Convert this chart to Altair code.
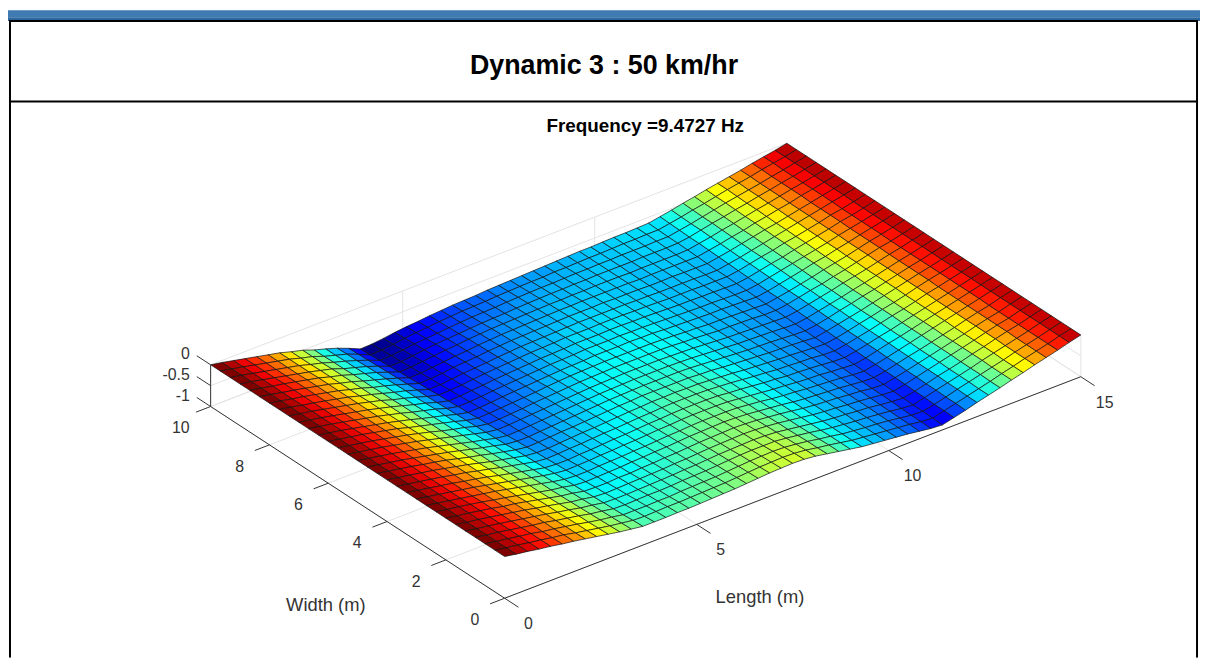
import altair as alt
import pandas as pd

# Depth of the mode shape (percent of the maximum, surface z = -depth/100),
# read off the picture node by node. Rows: Width 0 -> 10, columns: Length 0 -> 15.
depth_rows = [
[0,5,9,14,18,23,27,32,37,42,47,51,55,55,55,54,54,53,52,51,50,48,46,44,43,42,43,46,51,56,61,66,69,72,75,78,82,86,88,81,74,66,59,52,44,37,29,22,15,7,0],
[0,5,9,14,18,23,27,33,38,43,48,52,56,57,56,55,55,54,53,52,51,49,47,45,44,43,44,47,52,56,61,66,69,72,75,78,81,85,87,80,73,66,59,52,44,37,29,22,15,7,0],
[0,5,9,14,18,24,28,33,38,44,49,53,58,58,58,57,57,55,54,53,52,50,48,46,45,44,45,48,52,57,61,66,69,72,74,77,81,85,86,80,73,65,58,51,44,37,29,22,15,7,0],
[0,5,9,14,19,24,28,34,39,44,50,54,59,60,59,58,58,57,55,54,53,51,49,47,46,46,46,49,53,57,62,66,69,72,74,77,80,84,86,79,72,65,58,51,43,36,29,22,15,7,0],
[0,5,9,14,19,24,29,34,40,45,51,55,60,61,61,60,59,58,57,55,54,52,50,49,48,47,48,50,54,58,62,66,69,71,74,76,80,83,85,79,72,64,58,51,43,36,28,21,15,7,0],
[0,5,9,14,19,24,29,35,40,46,52,56,61,63,62,61,60,59,58,56,55,53,51,50,49,48,49,51,54,58,62,66,69,71,74,76,79,82,84,78,71,64,57,50,43,36,28,21,15,7,0],
[0,5,9,14,19,25,29,35,41,47,53,57,63,64,64,62,62,60,59,57,56,54,52,51,50,49,50,52,55,58,62,66,69,71,73,76,78,82,83,77,71,64,57,50,43,36,28,21,15,7,0],
[0,5,9,14,19,25,30,36,42,48,54,58,64,66,65,64,63,61,60,58,57,55,53,52,51,50,51,53,56,59,62,66,69,71,73,75,78,81,82,77,70,63,57,50,43,36,28,21,15,7,0],
[0,5,10,15,20,25,30,36,42,48,54,60,65,67,67,65,64,63,61,60,58,56,55,53,52,52,52,53,56,59,63,66,68,71,73,75,77,80,82,76,70,63,56,49,42,35,28,21,14,7,0],
[0,5,10,15,20,25,31,37,43,49,55,61,66,69,68,67,65,64,62,61,59,57,56,54,53,53,53,54,57,60,63,66,68,71,73,74,77,79,81,76,69,62,56,49,42,35,28,21,14,7,0],
[0,5,10,15,20,26,31,37,44,50,56,62,68,70,70,68,67,65,63,62,60,58,57,55,54,54,54,55,58,60,63,66,68,71,72,74,76,79,80,75,69,62,56,49,42,35,28,21,14,7,0],
[0,5,10,15,20,26,31,38,44,51,57,63,69,72,71,69,68,66,64,63,61,59,58,56,55,55,55,56,58,60,63,66,68,71,72,74,75,78,79,74,68,62,55,48,42,35,27,21,14,7,0],
[0,5,10,15,20,26,32,38,45,52,58,64,70,73,73,71,69,67,66,64,62,60,59,57,57,56,57,57,59,61,63,66,68,70,72,73,75,77,78,74,68,61,55,48,42,35,27,20,14,7,0],
[0,5,10,15,21,26,32,39,46,52,59,65,71,75,74,72,70,69,67,65,63,61,60,58,58,58,58,58,60,61,64,66,68,70,72,73,74,76,78,73,67,61,55,48,41,34,27,20,14,7,0],
[0,5,10,15,21,27,33,39,46,53,60,66,73,76,76,74,72,70,68,66,64,62,61,60,59,59,59,59,60,62,64,66,68,70,71,72,74,76,77,73,67,60,54,47,41,34,27,20,14,7,0],
[0,5,10,15,21,27,33,40,47,54,61,67,74,78,77,75,73,71,69,67,65,63,62,61,60,60,60,60,61,62,64,66,68,70,71,72,73,75,76,72,66,60,54,47,41,34,27,20,14,7,0],
[0,5,10,15,21,27,33,40,47,54,61,68,75,79,78,76,74,72,70,68,66,64,63,62,61,61,61,61,62,63,64,66,68,70,71,72,73,74,75,71,65,59,53,46,40,34,27,20,14,7,0],
[0,5,10,15,21,27,33,40,47,55,62,68,76,81,80,78,76,73,71,69,67,65,64,63,62,62,62,62,62,63,65,66,68,70,70,71,72,74,74,70,64,58,53,46,40,33,26,19,14,7,0],
[0,5,10,15,21,27,33,41,48,55,62,69,77,82,81,79,77,75,73,70,68,66,65,64,63,63,63,63,63,64,65,67,68,70,70,71,72,73,74,69,64,58,52,45,39,33,26,19,13,7,0],
[0,5,10,16,22,28,34,41,48,56,63,70,78,84,83,81,78,76,74,72,70,68,67,66,64,64,64,63,64,64,66,67,68,69,70,70,71,72,73,69,63,57,51,44,39,32,26,19,13,7,0],
[0,5,10,16,22,28,34,41,48,56,63,70,79,85,84,82,79,77,75,73,71,69,68,67,65,65,65,64,65,65,66,67,68,69,70,70,71,72,72,68,62,56,50,44,38,32,25,19,13,7,0],
[0,5,10,16,22,28,34,41,48,56,64,71,80,87,86,83,81,78,76,74,72,70,69,68,66,66,66,65,65,66,66,67,68,69,69,70,70,71,71,67,61,55,50,43,37,31,25,18,13,7,0],
[0,5,10,16,22,28,34,41,48,57,64,72,81,88,87,85,82,79,77,75,73,71,70,69,67,67,67,66,66,66,67,67,68,69,69,69,70,70,70,66,60,54,49,42,37,31,25,18,13,7,0],
[0,5,11,16,22,28,34,42,49,57,65,72,81,90,89,86,83,81,79,76,74,72,71,70,69,68,67,67,67,67,67,68,68,69,69,69,69,70,70,65,60,54,48,42,36,30,24,18,12,6,0],
[0,5,11,16,22,28,34,42,49,58,65,73,82,91,90,88,84,82,80,77,75,73,72,71,70,69,68,68,68,67,68,68,68,69,69,68,69,69,69,64,59,53,47,41,36,30,24,18,12,6,0],
[0,5,11,16,22,28,34,42,49,58,66,74,83,93,92,89,86,83,81,78,76,74,73,72,71,70,69,69,68,68,68,68,68,69,68,68,68,68,68,63,58,52,47,40,35,29,24,17,12,6,0],
[0,5,11,16,22,28,34,42,49,58,66,74,84,94,93,90,87,84,82,79,77,75,74,73,72,71,70,70,69,69,68,68,68,69,68,68,68,68,67,62,57,51,46,40,34,29,23,17,12,6,0],
[0,5,11,17,23,29,35,42,49,59,67,75,85,96,95,92,88,85,83,81,79,77,76,75,73,72,71,70,70,69,69,68,68,68,68,67,67,67,66,62,56,50,45,39,34,28,23,17,12,6,0],
[0,5,11,17,23,29,35,43,50,59,67,76,86,97,96,93,89,87,85,82,80,78,77,76,74,73,72,71,71,70,69,69,68,68,67,67,67,66,66,61,56,50,44,38,33,28,23,17,12,6,0],
[0,5,11,17,23,29,35,43,50,60,68,76,87,99,98,95,91,88,86,83,81,79,78,77,75,74,73,72,72,70,70,69,68,68,67,66,66,65,65,60,55,49,44,38,32,27,22,16,11,6,0],
[0,5,11,17,23,29,35,43,50,60,68,77,88,100,99,96,92,89,87,84,82,80,79,78,76,75,74,73,72,71,70,69,68,68,67,66,66,65,64,59,54,48,43,37,32,27,22,16,11,6,0],
]
LENGTH_MAX = 15
WIDTH_MAX = 10
length_ticks = [0, 5, 10, 15]
width_ticks = [0, 2, 4, 6, 8, 10]
z_ticks = [0, -0.5, -1]
z_tick_labels = ["0", "-0.5", "-1"]
main_title = "Dynamic 3 : 50 km/hr"
sub_title = "Frequency =9.4727 Hz"
x_title = "Length (m)"
y_title = "Width (m)"
jet_domain = [-1, -0.875, -0.625, -0.375, -0.125, 0]
jet_range = ["#000080", "#0000ff", "#00ffff", "#ffff00", "#ff0000", "#800000"]

# Fixed 3D view (orthographic camera) as seen in the figure
ORIGIN = (508.0, 558.0)
L_VEC = (580.0 / 15, -223.0 / 15)
W_VEC = (-296.0 / 10, -193.0 / 10)
Z_VEC = (0.0, -42.0)


def view(length, width, z):
    return (
        ORIGIN[0] + L_VEC[0] * length + W_VEC[0] * width + Z_VEC[0] * z,
        ORIGIN[1] + L_VEC[1] * length + W_VEC[1] * width + Z_VEC[1] * z,
    )


def seg(a, b):
    p, q = view(*a), view(*b)
    return {"x": p[0], "y": p[1], "x2": q[0], "y2": q[1]}


def tick(a, dl, dw):
    return seg(a, (a[0] + dl, a[1] + dw, a[2]))


n_w = len(depth_rows) - 1
n_l = len(depth_rows[0]) - 1
lengths = [LENGTH_MAX * i / n_l for i in range(n_l + 1)]
widths = [WIDTH_MAX * j / n_w for j in range(n_w + 1)]

features = []
for j in range(n_w - 1, -1, -1):
    for i in range(n_l):
        corners = [(i, j), (i + 1, j), (i + 1, j + 1), (i, j + 1), (i, j)]
        ring = [list(view(lengths[a], widths[b], -depth_rows[b][a] / 100)) for a, b in corners]
        features.append({
            "type": "Feature",
            "geometry": {"type": "Polygon", "coordinates": [ring]},
            "properties": {"z": -depth_rows[j][i] / 100},
        })

W0, WM, LM = 0, WIDTH_MAX, LENGTH_MAX
grid_rows = []
for l in length_ticks:
    grid_rows.append(seg((l, 0, -1), (l, WM, -1)))
    grid_rows.append(seg((l, WM, -1), (l, WM, 0)))
for w in width_ticks:
    grid_rows.append(seg((0, w, -1), (LM, w, -1)))
    grid_rows.append(seg((LM, w, -1), (LM, w, 0)))
for z in z_ticks:
    grid_rows.append(seg((0, WM, z), (LM, WM, z)))
    grid_rows.append(seg((LM, WM, z), (LM, 0, z)))
grid_df = pd.DataFrame(grid_rows)

axis_rows = [
    seg((0, 0, -1), (LM, 0, -1)),
    seg((0, 0, -1), (0, WM, -1)),
    seg((0, WM, -1), (0, WM, 0)),
]
for l in length_ticks:
    axis_rows.append(tick((l, 0, -1), 0, -0.47))
for w in width_ticks:
    axis_rows.append(tick((0, w, -1), -0.38, 0))
for z in z_ticks:
    axis_rows.append(tick((0, WM, z), 0, 0.47))
axis_df = pd.DataFrame(axis_rows)

tick_labels = []
for l in length_ticks:
    p = view(l, 0, -1)
    tick_labels.append({"x": p[0] + 24, "y": p[1] + 26, "t": str(l), "a": "center"})
for w in width_ticks:
    p = view(0, w, -1)
    tick_labels.append({"x": p[0] - 30, "y": p[1] + 22, "t": str(w), "a": "center"})
for z, t in zip(z_ticks, z_tick_labels):
    p = view(0, WM, z)
    tick_labels.append({"x": p[0] - 21, "y": p[1] - 11, "t": t, "a": "right"})
tick_df = pd.DataFrame(tick_labels)

frame_df = pd.DataFrame([
    {"x": 6, "x2": 1208, "y": 3, "y2": 7, "c": "#9bbde0"},
    {"x": 6, "x2": 1208, "y": 7, "y2": 15, "c": "#3f7ab0"},
    {"x": 6, "x2": 1208, "y": 15, "y2": 19, "c": "#2c689f"},
    {"x": 9, "x2": 1206, "y": 18, "y2": 20, "c": "#000000"},
    {"x": 9, "x2": 1206, "y": 99, "y2": 101, "c": "#000000"},
    {"x": 9, "x2": 11, "y": 18, "y2": 660, "c": "#000000"},
    {"x": 1204, "x2": 1206, "y": 18, "y2": 660, "c": "#000000"},
])

X = alt.X("x:Q", scale=alt.Scale(domain=[8, 1208], nice=False, zero=False), axis=None)
Y = alt.Y("y:Q", scale=alt.Scale(domain=[660, 8], nice=False, zero=False), axis=None)

frame = alt.Chart(frame_df).mark_rect(clip=True).encode(
    X, Y, x2="x2:Q", y2="y2:Q", color=alt.Color("c:N", scale=None)
)
grid = alt.Chart(grid_df).mark_rule(color="#e3e3e3", strokeWidth=1).encode(X, Y, x2="x2:Q", y2="y2:Q")
surface = (
    alt.Chart(alt.Data(values=features))
    .mark_geoshape(stroke="#111111", strokeWidth=0.7)
    .encode(
        color=alt.Color(
            "properties.z:Q",
            scale=alt.Scale(domain=jet_domain, range=jet_range, interpolate="rgb"),
            legend=None,
        )
    )
    .project(type="identity", scale=1, translate=[-8, -8])
)
axes = alt.Chart(axis_df).mark_rule(color="#333333", strokeWidth=1).encode(X, Y, x2="x2:Q", y2="y2:Q")

FONT = "Liberation Sans"
ticks_c = alt.Chart(tick_df[tick_df.a == "center"]).mark_text(
    font=FONT, fontSize=16, color="#333333", align="center", baseline="middle"
).encode(X, Y, text="t:N")
ticks_r = alt.Chart(tick_df[tick_df.a == "right"]).mark_text(
    font=FONT, fontSize=16, color="#333333", align="right", baseline="middle"
).encode(X, Y, text="t:N")
labels = alt.Chart(pd.DataFrame([
    {"x": 765, "y": 599, "t": x_title},
    {"x": 328, "y": 607, "t": y_title},
])).mark_text(font=FONT, fontSize=18.5, color="#333333", align="center", baseline="middle").encode(X, Y, text="t:N")
title1 = alt.Chart(pd.DataFrame([{"x": 608, "y": 64, "t": main_title}])).mark_text(
    font=FONT, fontSize=27, fontWeight="bold", color="#000000", align="center", baseline="middle"
).encode(X, Y, text="t:N")
title2 = alt.Chart(pd.DataFrame([{"x": 649.5, "y": 125, "t": sub_title}])).mark_text(
    font=FONT, fontSize=19, fontWeight="bold", color="#000000", align="center", baseline="middle"
).encode(X, Y, text="t:N")

chart = (
    alt.layer(frame, grid, surface, axes, ticks_c, ticks_r, labels, title1, title2)
    .properties(
        width=1200, height=652, padding=0, autosize="none", background="#ffffff",
        usermeta={"embedOptions": {"defaultStyle": False}},
    )
    .configure_view(stroke=None)
)
chart.save("out.html", embed_options={"renderer": "svg", "actions": False})
